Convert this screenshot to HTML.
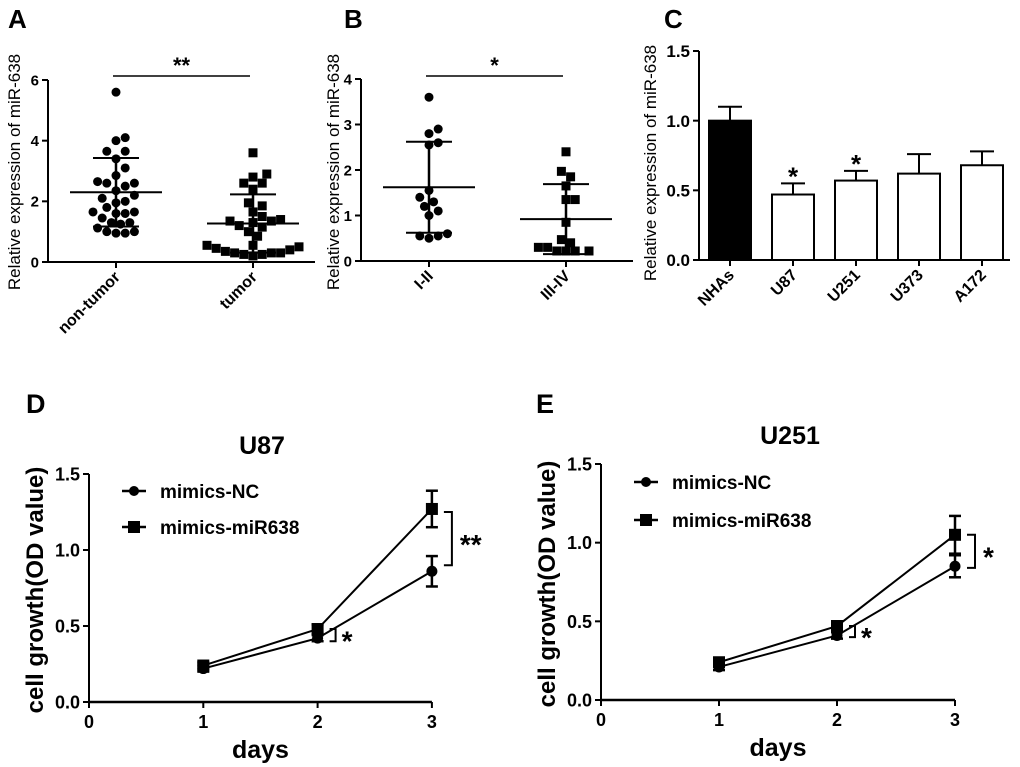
<!DOCTYPE html>
<html><head><meta charset="utf-8"><style>
body{margin:0;background:#fff}
svg{display:block;font-family:"Liberation Sans",Arial,sans-serif}
</style></head><body>
<svg id="fig" width="1020" height="767" viewBox="0 0 1020 767" xmlns="http://www.w3.org/2000/svg">
<g font-weight="bold" font-size="26" fill="#000">
<text x="8" y="28">A</text>
<text x="344" y="28">B</text>
<text x="664" y="28">C</text>
<text x="26" y="413" font-size="27">D</text>
<text x="536" y="413" font-size="27">E</text>
</g>
</svg>
<script>
// ---- Panel A data
const aCats=["non-tumor","tumor"];
const aNonTumor=[5.6,4.1,4.0,3.65,3.65,3.4,3.1,2.85,2.6,2.6,2.65,2.5,2.35,2.2,2.1,1.95,2.0,1.65,1.6,1.65,1.8,1.6,1.45,1.3,1.25,1.3,1.0,0.95,0.95,1.0,1.12];
const aTumor=[3.6,2.9,2.8,2.6,2.6,2.4,1.95,1.85,1.65,1.5,1.4,1.35,1.3,1.35,1.2,1.15,1.0,0.85,0.55,0.55,0.5,0.45,0.4,0.35,0.3,0.3,0.25,0.2,0.25,0.3];
const aMeans=[2.3,1.27];
const aSDs=[1.13,0.96];
const aTicks=[0,2,4,6];
// ---- Panel B data
const bCats=["I-II","III-IV"];
const bLow=[3.6,2.9,2.8,2.6,2.55,1.55,1.4,1.3,1.2,1.1,1.0,0.6,0.55,0.5,0.55];
const bHigh=[2.4,1.97,1.85,1.65,1.35,1.35,0.85,0.47,0.4,0.3,0.22,0.22,0.22,0.22,0.3];
const bMeans=[1.62,0.92];
const bSDs=[1.0,0.77];
const bTicks=[0,1,2,3,4];
// ---- Panel C data
const cCats=["NHAs","U87","U251","U373","A172"];
const cVals=[1.0,0.47,0.57,0.62,0.68];
const cErrs=[0.1,0.08,0.07,0.14,0.1];
const cStars=["","*","*","",""];
const cTicks=["0.0","0.5","1.0","1.5"];
// ---- Panel D data
const days=[1,2,3];
const dNC=[0.22,0.42,0.86];
const dNCerr=[0.02,0.02,0.1];
const dMiR=[0.24,0.48,1.27];
const dMiRerr=[0.02,0.03,0.12];
// ---- Panel E data
const eNC=[0.21,0.41,0.85];
const eNCerr=[0.02,0.02,0.07];
const eMiR=[0.24,0.47,1.05];
const eMiRerr=[0.02,0.03,0.12];
const lineTicks=["0.0","0.5","1.0","1.5"];
const xTicks=[0,1,2,3];

const svg=document.getElementById('fig');
const NS="http://www.w3.org/2000/svg";
function mk(tag,attrs,parent){const e=document.createElementNS(NS,tag);for(const k in attrs)e.setAttribute(k,attrs[k]);(parent||svg).appendChild(e);return e;}
function line(x1,y1,x2,y2,w,p){return mk('line',{x1,y1,x2,y2,stroke:'#000','stroke-width':w||2},p);}
function txt(x,y,s,attrs,p){const t=mk('text',Object.assign({x,y},attrs||{}),p);t.textContent=s;return t;}

function yAxis(g,x,yTop,yBot,ticks,scale,labels,fs){
  const ax=line(x,yTop,x,yBot,2,g);
  
  
  const f=fs||15;
  ticks.forEach((v,i)=>{const y=scale(+v);line(x-6,y,x,y,2,g);
    const t=txt(x-9,y+f*0.36,labels?labels[i]:String(v),{'text-anchor':'end','font-weight':'bold','font-size':f},g);
    
    });
}
function ylabel(g,x,y,s,fs,bold){const t=txt(0,0,s,{'text-anchor':'middle','font-size':fs,'font-weight':bold?'bold':'normal',transform:`translate(${x},${y}) rotate(-90)`},g);
  
  }
function rotLabel(g,x,y,s){const t=txt(0,0,s,{'text-anchor':'end','font-weight':'bold','font-size':16,transform:`translate(${x},${y}) rotate(-45)`},g);
  
  }

function swarm(vals,cx,scale,d){
  const placed=[];const order=vals.map((v,i)=>i).sort((a,b)=>vals[a]-vals[b]);
  const out=new Array(vals.length);
  order.forEach(i=>{const y=scale(vals[i]);
    for(let k=0;k<40;k++){const off=(k%2?1:-1)*Math.ceil(k/2)*d*0.5;const x=cx+off;
      if(placed.every(p=>Math.hypot(p[0]-x,p[1]-y)>=d)){placed.push([x,y]);out[i]=[x,y];break;}}
  });return out;
}
function scatterPanel(name,x0,x1,yTop,yBot,maxV,ticks,cats,groups,means,sds,cxs,star,sigY){
  const g=mk('g',{});
  
  
  const sc=v=>yBot-(v/maxV)*(yBot-yTop);
  yAxis(g,x0,yTop,yBot,ticks,sc,null,15);
  line(x0,yBot,x1,yBot,2,g);
  cxs.forEach((cx,i)=>{line(cx,yBot,cx,yBot+6,2,g);rotLabel(g,cx+5,yBot+16,cats[i]);});
  groups.forEach((vals,gi)=>{
    const pts=swarm(vals,cxs[gi],sc,9.2);
    pts.forEach(p=>{let m;
      if(gi===0)m=mk('circle',{cx:p[0],cy:p[1],r:4.5,fill:'#000'},g);
      else m=mk('rect',{x:p[0]-4.5,y:p[1]-4.5,width:9,height:9,fill:'#000'},g);
      
      });
    const cx=cxs[gi],m=means[gi],s=sds[gi];
    line(cx-46,sc(m),cx+46,sc(m),2,g);
    line(cx,sc(m-s),cx,sc(m+s),2.5,g);
    line(cx-23,sc(m-s),cx+23,sc(m-s),2,g);
    line(cx-23,sc(m+s),cx+23,sc(m+s),2,g);
  });
  line(cxs[0]-3,sigY,cxs[1]-3,sigY,1.5,g);
  const st=txt((cxs[0]+cxs[1])/2-3,sigY-3,star,{'text-anchor':'middle','font-weight':'bold','font-size':22},g);
  
  
  return g;
}
const gA=scatterPanel('panel-a-scatter',48,315,80,262,6,aTicks,aCats,[aNonTumor,aTumor],aMeans,aSDs,[116,253],'**',76);
ylabel(gA,20,172,'Relative expression of miR-638',17);
const gB=scatterPanel('panel-b-scatter',361,633,79,261,4,bTicks,bCats,[bLow,bHigh],bMeans,bSDs,[429,566],'*',76);
ylabel(gB,339,172,'Relative expression of miR-638',17);

// Panel C
(function(){
  const g=mk('g',{});
  
  
  const x0=699,yTop=51,yBot=260;const sc=v=>yBot-(v/1.5)*(yBot-yTop);
  yAxis(g,x0,yTop,yBot,cTicks,sc,null,17);
  line(x0,yBot,1010,yBot,2,g);
  const cx=i=>730+i*63;
  cCats.forEach((c,i)=>{const x=cx(i),v=cVals[i],e=cErrs[i];
    line(x,sc(v),x,sc(v+e),2,g);line(x-12,sc(v+e),x+12,sc(v+e),2,g);
    const r=mk('rect',{x:x-21,y:sc(v),width:42,height:yBot-sc(v),fill:i===0?'#000':'#fff',stroke:'#000','stroke-width':2},g);
    
    
    line(x,yBot,x,yBot+6,2,g);
    rotLabel(g,x+5,yBot+16,c);
    if(cStars[i]){const s=txt(x,sc(v+e)+2,cStars[i],{'text-anchor':'middle','font-weight':'bold','font-size':26},g);
      
      }
  });
  ylabel(g,656,163,'Relative expression of miR-638',17);
})();

// Line panels
function linePanel(name,title,x0,xStep,yTop,yBot,nc,ncErr,mir,mirErr,titleX,legY1,legY2,br3,br2,star3){
  const g=mk('g',{});
  
  
  const sy=v=>yBot-(v/1.5)*(yBot-yTop);const sx=d=>x0+d*xStep;
  yAxis(g,x0,yTop,yBot,lineTicks,sy,null,18);
  line(x0,yBot,sx(3),yBot,2.5,g);
  xTicks.forEach(d=>{line(sx(d),yBot,sx(d),yBot+6,2,g);
    const t=txt(sx(d),yBot+26,String(d),{'text-anchor':'middle','font-weight':'bold','font-size':18},g);
    
    });
  const tt=txt(titleX,yTop-20,title,{'text-anchor':'middle','font-weight':'bold','font-size':25},g);
  
  
  const xl=txt((x0+sx(3))/2,yBot+56,'days',{'text-anchor':'middle','font-weight':'bold','font-size':25},g);
  
  
  ylabel(g,x0-46,(yTop+yBot)/2+2,'cell growth(OD value)',24,true);
  [[mir,mirErr,'sq'],[nc,ncErr,'ci']].forEach(([vals,errs,mkType])=>{
    const p=mk('polyline',{points:days.map((d,i)=>sx(d)+','+sy(vals[i])).join(' '),fill:'none',stroke:'#000','stroke-width':2},g);
    
    
    days.forEach((d,i)=>{const x=sx(d),y=sy(vals[i]),e=errs[i];
      line(x,sy(vals[i]-e),x,sy(vals[i]+e),2.5,g);line(x-6,sy(vals[i]-e),x+6,sy(vals[i]-e),2.5,g);line(x-6,sy(vals[i]+e),x+6,sy(vals[i]+e),2.5,g);
      let m;if(mkType==='sq')m=mk('rect',{x:x-6,y:y-6,width:12,height:12,fill:'#000'},g);else m=mk('circle',{cx:x,cy:y,r:5.5,fill:'#000'},g);
      
      });
  });
  const lx=x0+33;
  [[legY1,'mimics-NC','ci'],[legY2,'mimics-miR638','sq']].forEach(([y,s,t])=>{
    line(lx,y,lx+24,y,2.5,g);
    if(t==='ci')mk('circle',{cx:lx+12,cy:y,r:5,fill:'#000'},g);else mk('rect',{x:lx+6,y:y-6,width:12,height:12,fill:'#000'},g);
    const tx=txt(lx+38,y+7,s,{'font-weight':'bold','font-size':19},g);
    
    });
  function bracket(x,v1,v2,w,star,fs,dx){const y1=sy(v1),y2=sy(v2);
    mk('polyline',{points:`${x},${y1} ${x+w},${y1} ${x+w},${y2} ${x},${y2}`,fill:'none',stroke:'#000','stroke-width':2},g);
    const s=txt(x+w+dx,(y1+y2)/2+fs*0.55,star,{'font-weight':'bold','font-size':fs},g);
    
    }
  bracket(sx(3)+12,br3[0],br3[1],8,star3,28,8);
  bracket(sx(2)+12,br2[0],br2[1],6,'*',28,6);
}
linePanel('panel-d-line-chart','U87',89,114.3,474,702,dNC,dNCerr,dMiR,dMiRerr,262,491,527,[1.25,0.9],[0.48,0.40],'**');
linePanel('panel-e-line-chart','U251',601,118,464,700,eNC,eNCerr,eMiR,eMiRerr,790,482,520,[1.05,0.84],[0.47,0.40],'*');
</script>
</body></html>
